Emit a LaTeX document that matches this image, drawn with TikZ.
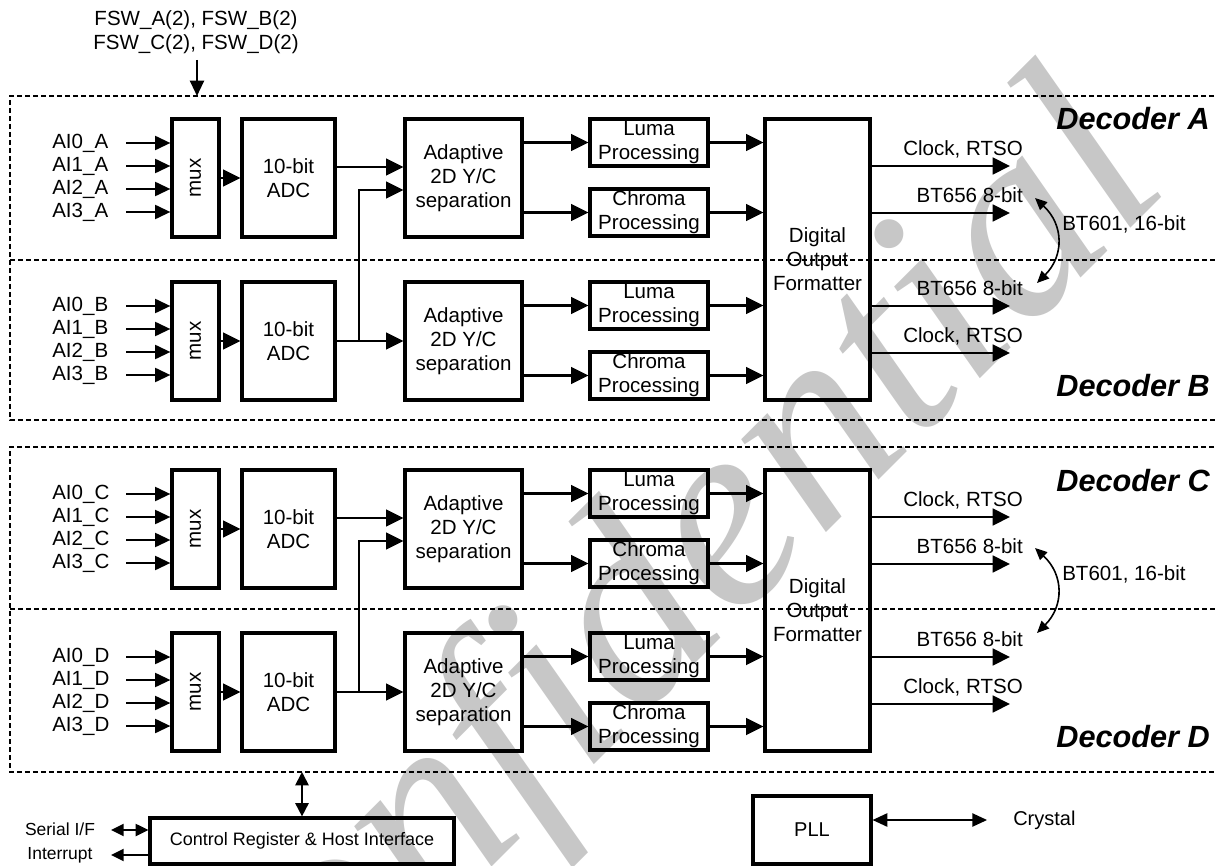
\documentclass[tikz,border=0pt]{standalone}
\usepackage{fontspec}
\setmainfont{Liberation Sans}
\newfontfamily\wmfont{Liberation Serif}
\usetikzlibrary{arrows.meta,calc}
\newcommand\msz{\fontsize{15.4pt}{18pt}\selectfont}
\newcommand\outp[4]{%
  \coordinate (o#1) at (1010,#2);
  \draw[arr] (#3.east |- o#1) -- (o#1);
  \node[lbl, anchor=base east] (ol#1) at (1023,#2-10.5) {#4};}
\begin{document}
\begin{tikzpicture}[x=0.75pt,y=-0.75pt,
  box/.style={draw, line width=2.4pt, inner sep=0pt, align=center, font=\msz},
  arr/.style={line width=2pt, -{Triangle[length=13pt,width=12.5pt]}},
  inarr/.style={line width=1.6pt, -{Triangle[length=11.5pt,width=10.5pt]}},
  dashbox/.style={line width=0.9pt, dash pattern=on 3.6pt off 2.4pt},
  lbl/.style={font=\msz, inner sep=0pt},
  dec/.style={font=\fontsize{23pt}{26pt}\selectfont\bfseries\itshape, inner sep=0pt, anchor=east},
  curv/.style={line width=1.2pt, {Triangle[length=9pt,width=8pt]}-{Triangle[length=9pt,width=8pt]}},
  dbl/.style={line width=1.4pt, {Triangle[length=10pt,width=10pt]}-{Triangle[length=10pt,width=10pt]}},
  sarr/.style={line width=1.4pt, -{Triangle[length=9.5pt,width=9pt]}},
  sdbl/.style={line width=1.4pt, {Triangle[length=9.5pt,width=9pt]}-{Triangle[length=9.5pt,width=9pt]}},
]
\useasboundingbox (0,0) rectangle (1216,866);
\clip (0,0) rectangle (1216,866);

% watermark
\node[anchor=base west, rotate=45, inner sep=0pt, text=black!22,
      font=\fontsize{205pt}{205pt}\wmfont\itshape] (wm) at (207,1152) {Confidential};

% dashed decoder frames
\draw[dashbox] (1230,96) -- (10,96) -- (10,420) -- (1230,420);
\draw[dashbox] (10,260) -- (1230,260);
\draw[dashbox] (1230,447) -- (10,447) -- (10,772) -- (1230,772);
\draw[dashbox] (10,609) -- (1230,609);

% output formatters
\node[box, minimum width=78.75pt, minimum height=210.75pt] (dofAB) at (817.5,259.5) {Digital\\Output\\Formatter};
\node[box, minimum width=78.75pt, minimum height=210.75pt] (dofCD) at (817.5,610.5) {Digital\\Output\\Formatter};

\foreach \d/\t/\k/\p/\f in {A/119/0/A/AB, B/282/1/A/AB, C/470/0/C/CD, D/633/1/C/CD}{
  \node[box, minimum width=35.25pt, minimum height=88.5pt] (mux\d) at (195.5,\t+59) {};
  \node[lbl, rotate=90] (muxt\d) at (mux\d) {mux};
  \node[box, minimum width=69.75pt, minimum height=88.5pt] (adc\d) at (288.5,\t+59) {10-bit\\ADC};
  \node[box, minimum width=87.75pt, minimum height=88.5pt] (ad\d) at (463.5,\t+59) {Adaptive\\2D Y/C\\separation};
  \node[box, minimum width=88.5pt, minimum height=35.25pt] (lu\d) at (649,\t+23.5) {Luma\\Processing};
  \node[box, minimum width=88.5pt, minimum height=35.25pt] (ch\d) at (649,\t+93.5) {Chroma\\Processing};
  \foreach \i/\o in {0/24,1/47,2/70,3/93}{
    \node[lbl, anchor=west] (ai\d\i) at (52,\t+\o) {AI\i\_\d};
    \coordinate (in\d\i) at (126,\t+\o);
    \draw[inarr] (in\d\i) -- (mux\d.west |- in\d\i);
  }
  \draw[arr] (mux\d.east) -- (adc\d.west);
  \coordinate (r\d a) at (0,\t+48);
  \coordinate (r\d b) at (0,\t+71);
  \ifnum\k=0
    \draw[arr] (adc\d.east |- r\d a) -- (ad\d.west |- r\d a);
  \else
    \draw[arr] (adc\d.east) -- (ad\d.west);
    \coordinate (j\d) at (359,\t+59);
    \draw[arr] (j\d) |- (ad\p.west |- r\p b);
  \fi
  \draw[arr] (ad\d.east |- lu\d) -- (lu\d.west);
  \draw[arr] (ad\d.east |- ch\d) -- (ch\d.west);
  \draw[arr] (lu\d.east) -- (dof\f.west |- lu\d);
  \draw[arr] (ch\d.east) -- (dof\f.west |- ch\d);
}

% outputs
\outp{A1}{166}{dofAB}{Clock, RTSO}
\outp{A2}{213}{dofAB}{BT656 8-bit}
\outp{B1}{306}{dofAB}{BT656 8-bit}
\outp{B2}{353}{dofAB}{Clock, RTSO}
\outp{C1}{517}{dofCD}{Clock, RTSO}
\outp{C2}{564}{dofCD}{BT656 8-bit}
\outp{D1}{657}{dofCD}{BT656 8-bit}
\outp{D2}{704}{dofCD}{Clock, RTSO}

% BT601 curved arrows
\coordinate (cA1) at (1035,198); \coordinate (cA2) at (1037,283);
\draw[curv] (cA1) .. controls (1064,225) and (1064,256) .. (cA2);
\node[lbl, anchor=west] (btA) at (1062,224) {BT601, 16-bit};
\coordinate (cC1) at (1035,548); \coordinate (cC2) at (1037,633);
\draw[curv] (cC1) .. controls (1064,575) and (1064,606) .. (cC2);
\node[lbl, anchor=west] (btC) at (1062,574) {BT601, 16-bit};

% decoder titles
\node[dec] (tA) at (1210,119) {Decoder A};
\node[dec] (tB) at (1210,386) {Decoder B};
\node[dec] (tC) at (1210,481) {Decoder C};
\node[dec] (tD) at (1210,737) {Decoder D};

% FSW input
\node[lbl, align=center] (fsw) at (196,32) {FSW\_A(2), FSW\_B(2)\\FSW\_C(2), FSW\_D(2)};
\coordinate (fswT) at (197,60); \coordinate (fswB) at (197,96);
\draw[inarr] (fswT) -- (fswB);

% control register
\node[box, minimum width=228pt, minimum height=34.5pt, font=\fontsize{13.5pt}{16pt}\selectfont] (ctrl) at (302,841) {Control Register \& Host Interface};
\coordinate (ctrlT) at (302,772);
\draw[dbl] (ctrlT) -- (ctrl.north);
\node[lbl, font=\fontsize{13.1pt}{16pt}\selectfont] (ser) at (60,829) {Serial I/F};
\node[lbl, font=\fontsize{13.1pt}{16pt}\selectfont] (intr) at (60,855) {Interrupt};
\coordinate (serc) at (111,830); \coordinate (intc) at (111,855);
\draw[sdbl] (serc) -- (ctrl.west |- serc);
\draw[sarr] (ctrl.west |- intc) -- (intc);

% PLL
\node[box, minimum width=88.5pt, minimum height=51pt, font=\fontsize{15pt}{18pt}\selectfont] (pll) at (812,830) {PLL};
\coordinate (xtl) at (987,820);
\draw[line width=1pt, {Triangle[length=11pt,width=10pt]}-{Triangle[length=11pt,width=10pt]}] (pll.east |- xtl) -- (xtl);
\node[lbl, anchor=west, font=\fontsize{15pt}{18pt}\selectfont] (crys) at (1013,820) {Crystal};
\end{tikzpicture}
\end{document}
